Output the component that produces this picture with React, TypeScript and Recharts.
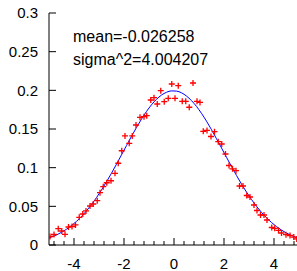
import React from 'react';
import { ComposedChart, Line, Scatter, XAxis, YAxis } from 'recharts';

// fitted gaussian
const curveX = [
  -5, -4.9, -4.7, -4.5, -4.3, -4.1, -3.9, -3.7, -3.5, -3.3, -3.1, -2.9, -2.7, -2.5, -2.3, -2.1,
  -1.9, -1.7, -1.5, -1.3, -1.1, -0.9, -0.7, -0.5, -0.3, -0.1, 0.1, 0.3, 0.5, 0.7, 0.9, 1.1,
  1.3, 1.5, 1.7, 1.9, 2.1, 2.3, 2.5, 2.7, 2.9, 3.1, 3.3, 3.5, 3.7, 3.9, 4.1, 4.3, 4.5, 4.7, 4.9, 5,
];
const curveY = [
  0.0091, 0.0103, 0.013, 0.0164, 0.0204, 0.0251, 0.0306, 0.0369, 0.0442, 0.0523, 0.0613, 0.0711,
  0.0817, 0.0929, 0.1045, 0.1166, 0.1286, 0.1405, 0.152, 0.1628, 0.1727, 0.1813, 0.1884, 0.1939,
  0.1975, 0.1993, 0.199, 0.1968, 0.1926, 0.1867, 0.1792, 0.1702, 0.1601, 0.1491, 0.1374, 0.1255,
  0.1134, 0.1015, 0.0899, 0.0788, 0.0684, 0.0588, 0.0501, 0.0422, 0.0352, 0.0291, 0.0238, 0.0193,
  0.0154, 0.0123, 0.0096, 0.0085,
];

// histogram points (red +)
const histX = [
  -4.96, -4.8, -4.63, -4.49, -4.36, -4.22, -4.08, -3.94, -3.79, -3.65, -3.52, -3.36, -3.23, -3.07,
  -2.96, -2.83, -2.69, -2.52, -2.36, -2.23, -2.09, -1.96, -1.79, -1.67, -1.52, -1.36, -1.2, -1.09,
  -0.93, -0.8, -0.67, -0.53, -0.39, -0.23, -0.09, 0.04, 0.17, 0.33, 0.47, 0.61, 0.76, 0.92, 1.04,
  1.17, 1.32, 1.48, 1.62, 1.77, 1.91, 2.06, 2.2, 2.34, 2.48, 2.62, 2.76, 2.91, 3.04, 3.2, 3.32,
  3.46, 3.6, 3.72, 3.91, 4.03, 4.18, 4.3, 4.48, 4.64, 4.79, 4.91,
];
const histY = [
  0.011, 0.0136, 0.0211, 0.0181, 0.0138, 0.0233, 0.0239, 0.0259, 0.0358, 0.0401, 0.044, 0.0504,
  0.053, 0.0573, 0.0676, 0.0754, 0.0805, 0.0831, 0.0927, 0.1057, 0.1219, 0.141, 0.1315, 0.141,
  0.1552, 0.1651, 0.1659, 0.1672, 0.1875, 0.1905, 0.1823, 0.1995, 0.1853, 0.1897, 0.2082, 0.1897,
  0.206, 0.1858, 0.1858, 0.1781, 0.2095, 0.1858, 0.1843, 0.147, 0.1481, 0.1403, 0.1465, 0.1336,
  0.1306, 0.1177, 0.1028, 0.0985, 0.0961, 0.0763, 0.0763, 0.064, 0.0621, 0.0517, 0.0446, 0.0388,
  0.0388, 0.0323, 0.0226, 0.0216, 0.0188, 0.0155, 0.0133, 0.0123, 0.0103, 0.0078,
];

const xTicks = [
  -4.8, -4.4, -4, -3.6, -3.2, -2.8, -2.4, -2, -1.6, -1.2, -0.8, -0.4, 0, 0.4, 0.8, 1.2, 1.6, 2,
  2.4, 2.8, 3.2, 3.6, 4, 4.4, 4.8,
];
const xLabelled = [-4, -2, 0, 2, 4];
const yTicks = [0, 0.05, 0.1, 0.15, 0.2, 0.25, 0.3];
const meanText = 'mean=-0.026258';
const sigmaText = 'sigma^2=4.004207';

const FONT = '"Liberation Sans", Arial, Helvetica, sans-serif';

const curveData = curveX.map((x, i) => ({ x, y: curveY[i] }));
const histData = histX.map((x, i) => ({ x, y: histY[i] }));

const isMajor = (v: number) => xLabelled.includes(v);

function BottomTick({ x, y, payload }: any) {
  const v = payload.value;
  const major = isMajor(v);
  return (
    <g>
      <line x1={x} x2={x} y1={y} y2={y - (major ? 7 : 4)} stroke="#000" />
      {major && (
        <text x={x} y={y + 23.5} textAnchor="middle" fontSize={15} fontFamily={FONT} fill="#000">
          {String(v)}
        </text>
      )}
    </g>
  );
}

function TopTick({ x, y, payload }: any) {
  const major = isMajor(payload.value);
  return <line x1={x} x2={x} y1={y} y2={y + (major ? 7 : 4)} stroke="#000" />;
}

function LeftTick({ x, y, payload }: any) {
  return (
    <g>
      <line x1={x} x2={x + 7} y1={y} y2={y} stroke="#000" />
      <text x={x - 11} y={y} dy="0.36em" textAnchor="end" fontSize={15} fontFamily={FONT} fill="#000">
        {String(payload.value)}
      </text>
    </g>
  );
}

function RightTick({ x, y }: any) {
  return <line x1={x} x2={x - 7} y1={y} y2={y} stroke="#000" />;
}

const Plus = ({ cx, cy }: any) => (
  <path
    d={`M${cx - 3},${cy}H${cx + 3}M${cx},${cy - 3}V${cy + 3}`}
    stroke="#ff0000"
    strokeWidth={1.3}
    fill="none"
  />
);

export default function App() {
  return (
    <div style={{ position: 'absolute', left: 0, top: 0, width: 297, height: 271, overflow: 'hidden', background: '#fff' }}>
      <ComposedChart width={302} height={271} margin={{ top: 13, right: 3, bottom: 0, left: 0 }}>
        <XAxis
          dataKey="x"
          type="number"
          domain={[-5, 5]}
          allowDataOverflow
          ticks={xTicks}
          interval={0}
          height={26}
          tickSize={0}
          tickMargin={0}
          tickLine={false}
          axisLine={{ stroke: '#000' }}
          tick={<BottomTick />}
        />
        <XAxis
          xAxisId="top"
          orientation="top"
          type="number"
          domain={[-5, 5]}
          allowDataOverflow
          ticks={xTicks}
          interval={0}
          height={0}
          tickSize={0}
          tickMargin={0}
          tickLine={false}
          axisLine={{ stroke: '#000' }}
          tick={<TopTick />}
        />
        <YAxis
          dataKey="y"
          type="number"
          domain={[0, 0.3]}
          allowDataOverflow
          ticks={yTicks}
          interval={0}
          width={49}
          tickSize={0}
          tickMargin={0}
          tickLine={false}
          axisLine={{ stroke: '#000' }}
          tick={<LeftTick />}
        />
        <YAxis
          yAxisId="right"
          orientation="right"
          type="number"
          domain={[0, 0.3]}
          allowDataOverflow
          ticks={yTicks}
          interval={0}
          width={0}
          tickSize={0}
          tickMargin={0}
          tickLine={false}
          axisLine={{ stroke: '#000' }}
          tick={<RightTick />}
        />
        <Line
          data={curveData}
          dataKey="y"
          type="monotone"
          stroke="#0000ff"
          strokeWidth={1}
          dot={false}
          isAnimationActive={false}
        />
        <Scatter data={histData} dataKey="y" shape={<Plus />} isAnimationActive={false} />
      </ComposedChart>
      <svg width={297} height={271} style={{ position: 'absolute', left: 0, top: 0, pointerEvents: 'none' }}>
        <text x={73} y={41.5} fontSize={16} fontFamily={FONT} fill="#000">{meanText}</text>
        <text x={73} y={65} fontSize={16} fontFamily={FONT} fill="#000">{sigmaText}</text>
      </svg>
    </div>
  );
}
